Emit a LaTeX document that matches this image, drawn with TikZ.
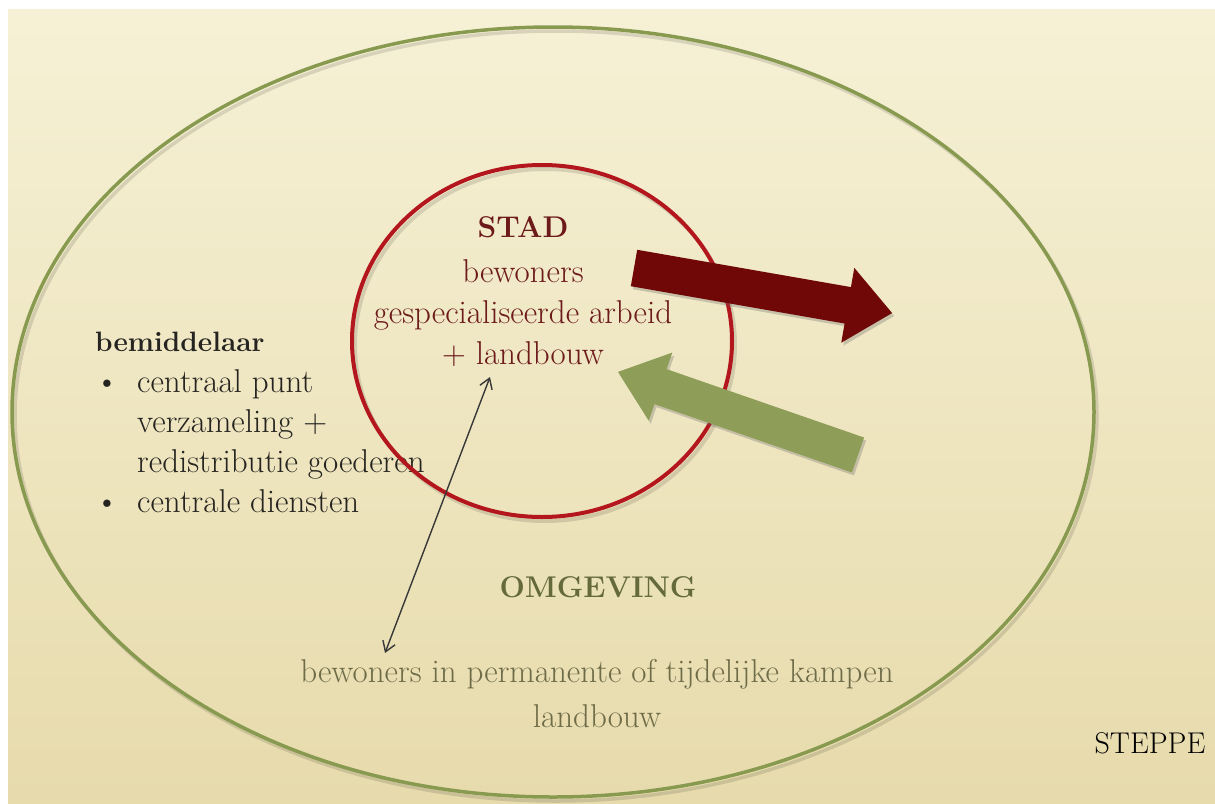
\documentclass[tikz,border=0pt]{standalone}
\usepackage{tikz}
\usetikzlibrary{positioning,arrows.meta,shadows}
\definecolor{paper}{RGB}{246,241,214}
\definecolor{papermid}{RGB}{241,234,201}
\definecolor{paperlow}{RGB}{231,219,172}
\definecolor{olivering}{RGB}{136,154,80}
\definecolor{cityred}{RGB}{180,22,30}
\definecolor{wine}{RGB}{112,8,8}
\definecolor{moss}{RGB}{142,158,88}
\definecolor{citytext}{RGB}{108,26,26}
\definecolor{landtext}{RGB}{100,106,60}
\definecolor{camptext}{RGB}{110,108,72}
\definecolor{inktext}{RGB}{38,36,32}

\begin{document}
\begin{tikzpicture}[x=1pt, y=-1pt,
  lbl/.style={font=\fontsize{33}{41}\selectfont, align=center, inner sep=0pt},
  head/.style={font=\fontsize{30}{41}\selectfont\bfseries},
  ring/.style={line width=3.5pt},
  flow/.style={drop shadow={shadow xshift=2pt, shadow yshift=-3pt, opacity=.3, fill=black!60}},
  link/.style={line width=1.4pt, draw=black!78, {Straight Barb[length=10pt,width=13pt]}-{Straight Barb[length=10pt,width=13pt]}}]
\useasboundingbox (0,0) rectangle (1215,803);
\fill[white] (0,0) rectangle (1215,803);
\shade[top color=paper, middle color=papermid, bottom color=paperlow] (8,9) rectangle (1215,803);

\draw[ring, black, opacity=.12] (556,416) ellipse [x radius=541, y radius=385];
\draw[ring, olivering] (553,412) ellipse [x radius=541, y radius=385];

\node[lbl, font=\fontsize{33}{40}\selectfont, align=left, anchor=north west, text=inktext] (bem) at (95,332)
  {{\fontsize{28}{40}\selectfont\bfseries bemiddelaar}\\[1pt]\makebox[42pt][l]{\textbullet}centraal punt\\\hspace*{42pt}verzameling +\\\hspace*{42pt}redistributie goederen\\\makebox[42pt][l]{\textbullet}centrale diensten};

\draw[line width=4pt, black, opacity=.12] (545,345) ellipse [x radius=190, y radius=176];
\draw[line width=4pt, cityred] (542,341) ellipse [x radius=190, y radius=176];

\node[lbl, anchor=north, text=citytext] (stad) at (523,216) {{\fontsize{30}{41}\selectfont\bfseries STAD}\\[4pt]bewoners\\gespecialiseerde arbeid\\+ landbouw};
\node[lbl, head, text=landtext] (omg) at (598,587) {OMGEVING};
\node[lbl, font=\fontsize{33}{45}\selectfont, anchor=north, text=camptext] (kamp) at (597,659) {bewoners in permanente of tijdelijke kampen\\landbouw};
\node[lbl, font=\fontsize{30}{40}\selectfont, anchor=base, text=black] (steppe) at (1150,753) {STEPPE};

\begin{scope}[shift={(634,268)}, rotate=-9.9]
\fill[wine, flow] (0,-18.5) -- (217,-18.5) -- (217,-38) -- (262,0) -- (217,38) -- (217,18.5) -- (0,18.5) -- cycle;
\end{scope}
\begin{scope}[shift={(858,455)}, rotate=160.9]
\fill[moss, flow] (0,-18.5) -- (209,-18.5) -- (209,-36) -- (254,0) -- (209,36) -- (209,18.5) -- (0,18.5) -- cycle;
\end{scope}

\coordinate (up) at (490,377);
\coordinate (down) at (385,653);
\draw[link] (down) -- (up);
\end{tikzpicture}
\end{document}
